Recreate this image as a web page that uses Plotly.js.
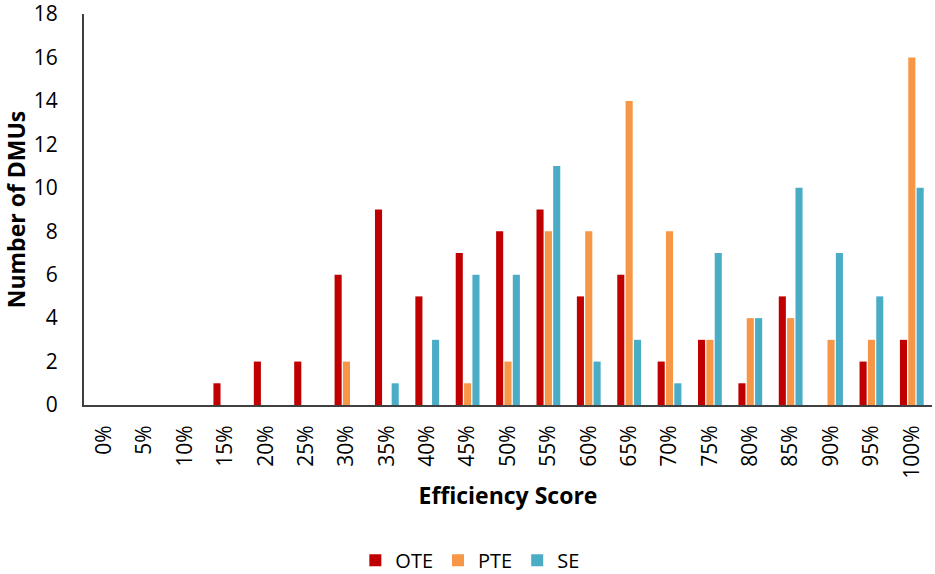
<!DOCTYPE html>
<html>
<head>
<meta charset="utf-8">
<script src="https://cdn.plot.ly/plotly-3.0.1.min.js"></script>
<style>
  html, body { margin: 0; padding: 0; background: #fff; }
  #myDiv { width: 935px; height: 574px; }
</style>
</head>
<body>
<div id="myDiv"></div>
<script>
var categories = ['0%', '5%', '10%', '15%', '20%', '25%', '30%', '35%', '40%', '45%', '50%',
                  '55%', '60%', '65%', '70%', '75%', '80%', '85%', '90%', '95%', '100%'];

var oteValues = [0, 0, 0, 1, 2, 2, 6, 9, 5, 7, 8, 9, 5, 6, 2, 3, 1, 5, 0, 2, 3];
var pteValues = [0, 0, 0, 0, 0, 0, 2, 0, 0, 1, 2, 8, 8, 14, 8, 3, 4, 4, 3, 3, 16];
var seValues  = [0, 0, 0, 0, 0, 0, 0, 1, 3, 6, 6, 11, 2, 3, 1, 7, 4, 10, 7, 5, 10];

var fontFamily = '"Open Sans", sans-serif';

var oteData = {
    x: categories,
    y: oteValues,
    type: 'bar',
    name: 'OTE',
    marker: { color: '#C00000', line: { width: 0 } }
};

var pteData = {
    x: categories,
    y: pteValues,
    type: 'bar',
    name: 'PTE',
    marker: { color: '#F79646', line: { width: 0 } }
};

var seData = {
    x: categories,
    y: seValues,
    type: 'bar',
    name: 'SE',
    marker: { color: '#4BACC6', line: { width: 0 } }
};

var layout = {
    width: 935,
    height: 574,
    margin: { l: 84, r: 3, t: 14, b: 169, autoexpand: false },
    paper_bgcolor: '#ffffff',
    plot_bgcolor: '#ffffff',
    font: { family: fontFamily, size: 21, color: '#000000' },
    barmode: 'group',
    bargap: 0.38,
    bargroupgap: 0.15,
    showlegend: true,
    legend: {
        orientation: 'h',
        x: 0.455,
        xanchor: 'center',
        y: -0.397,
        yanchor: 'middle',
        font: { family: fontFamily, size: 20 },
        itemwidth: 30,
        traceorder: 'normal'
    },
    xaxis: {
        type: 'category',
        tickangle: -90,
        showline: true,
        linecolor: '#404040',
        linewidth: 2,
        showgrid: false,
        ticks: '',
        automargin: false,
        ticklabelstandoff: 10,
        tickfont: { family: fontFamily, size: 21 },
        title: {
            text: '<b>Efficiency Score</b>',
            font: { family: fontFamily, size: 23 },
            standoff: 10
        }
    },
    yaxis: {
        range: [0, 18],
        dtick: 2,
        showline: true,
        linecolor: '#404040',
        linewidth: 2,
        showgrid: false,
        zeroline: false,
        ticks: '',
        automargin: false,
        ticklabeloverflow: 'allow',
        ticklabelstandoff: 20,
        tickfont: { family: fontFamily, size: 21 },
        title: {
            text: '<b>Number of DMUs</b>',
            font: { family: fontFamily, size: 23 },
            standoff: 10
        }
    }
};

var data = [oteData, pteData, seData];

Plotly.newPlot('myDiv', data, layout, { displayModeBar: false, staticPlot: true });
</script>
</body>
</html>
